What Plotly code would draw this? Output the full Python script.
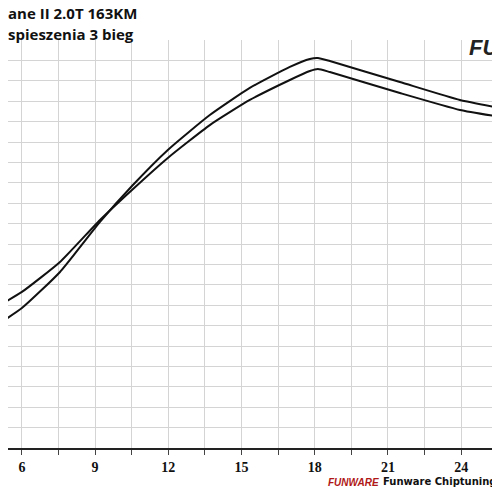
import plotly.graph_objects as go

x1 = [5.10, 6.0, 7.56, 9.20, 10.51, 11.98, 13.70, 15.34, 16.98, 17.80, 18.13, 18.62, 21.49, 23.95, 25.59, 26.0]
y1 = [7.01, 7.65, 9.12, 11.18, 12.65, 14.22, 15.83, 17.06, 18.04, 18.48, 18.58, 18.43, 17.40, 16.57, 16.23, 16.15]
x2 = x1
y2 = [6.13, 6.86, 8.63, 11.08, 12.84, 14.61, 16.32, 17.65, 18.68, 19.07, 19.12, 18.97, 17.94, 17.06, 16.67, 16.58]
tick_vals = [6, 7.5, 9, 10.5, 12, 13.5, 15, 16.5, 18, 19.5, 21, 22.5, 24, 25.5]
tick_text = ["6", "", "9", "", "12", "", "15", "", "18", "", "21", "", "24", ""]

fig = go.Figure()
for xs, ys in [(x1, y1), (x2, y2)]:
    fig.add_trace(go.Scatter(x=xs, y=ys, mode="lines", line=dict(color="#111", width=2, shape="spline", smoothing=0.5), showlegend=False))

H = 408
fig.update_layout(
    width=500, height=500, margin=dict(l=0, r=0, t=32, b=60, autoexpand=False),
    paper_bgcolor="white", plot_bgcolor="white",
    xaxis=dict(range=[5.43, 25.92], tickvals=tick_vals, ticktext=tick_text, showgrid=True, gridcolor="#d4d4d4", gridwidth=1.3,
               showline=True, linecolor="#222", linewidth=2, ticks="outside", ticklen=5, tickcolor="#444",
               tickfont=dict(family="Liberation Serif", size=14, color="#111", weight="bold"), zeroline=False, automargin=False),
    yaxis=dict(range=[0, 20], dtick=1, showticklabels=False, showgrid=True, gridcolor="#d4d4d4", gridwidth=1.3, zeroline=False, automargin=False),
)
tf = dict(family="Open Sans", size=15, color="#111", weight="bold")
fig.add_annotation(xref="paper", yref="paper", x=-0.005, y=1+(40-13)/H, xanchor="left", yanchor="middle", text="ane II 2.0T 163KM", showarrow=False, font=tf)
fig.add_annotation(xref="paper", yref="paper", x=-0.005, y=1+(40-34)/H, xanchor="left", yanchor="middle", text="spieszenia 3 bieg", showarrow=False, font=tf)
fig.add_annotation(xref="paper", yref="paper", x=0.985, y=(448-47)/H, xanchor="right", yanchor="middle", text="<i>FU</i>", showarrow=False,
                   font=dict(family="Liberation Sans", size=22, color="#222", weight="bold"))
fig.add_annotation(xref="paper", yref="paper", x=0.635, y=-(483-448)/H, xanchor="left", yanchor="middle", text="<i>FUNWARE</i>", showarrow=False,
                   font=dict(family="Liberation Sans", size=10, color="#b01818", weight="bold"))
fig.add_annotation(xref="paper", yref="paper", x=0.745, y=-(481-448)/H, xanchor="left", yanchor="middle", text="Funware Chiptuning Łódź", showarrow=False,
                   font=dict(family="DejaVu Sans", size=10, color="#111", weight="bold"))
fig.write_html("out.html")
